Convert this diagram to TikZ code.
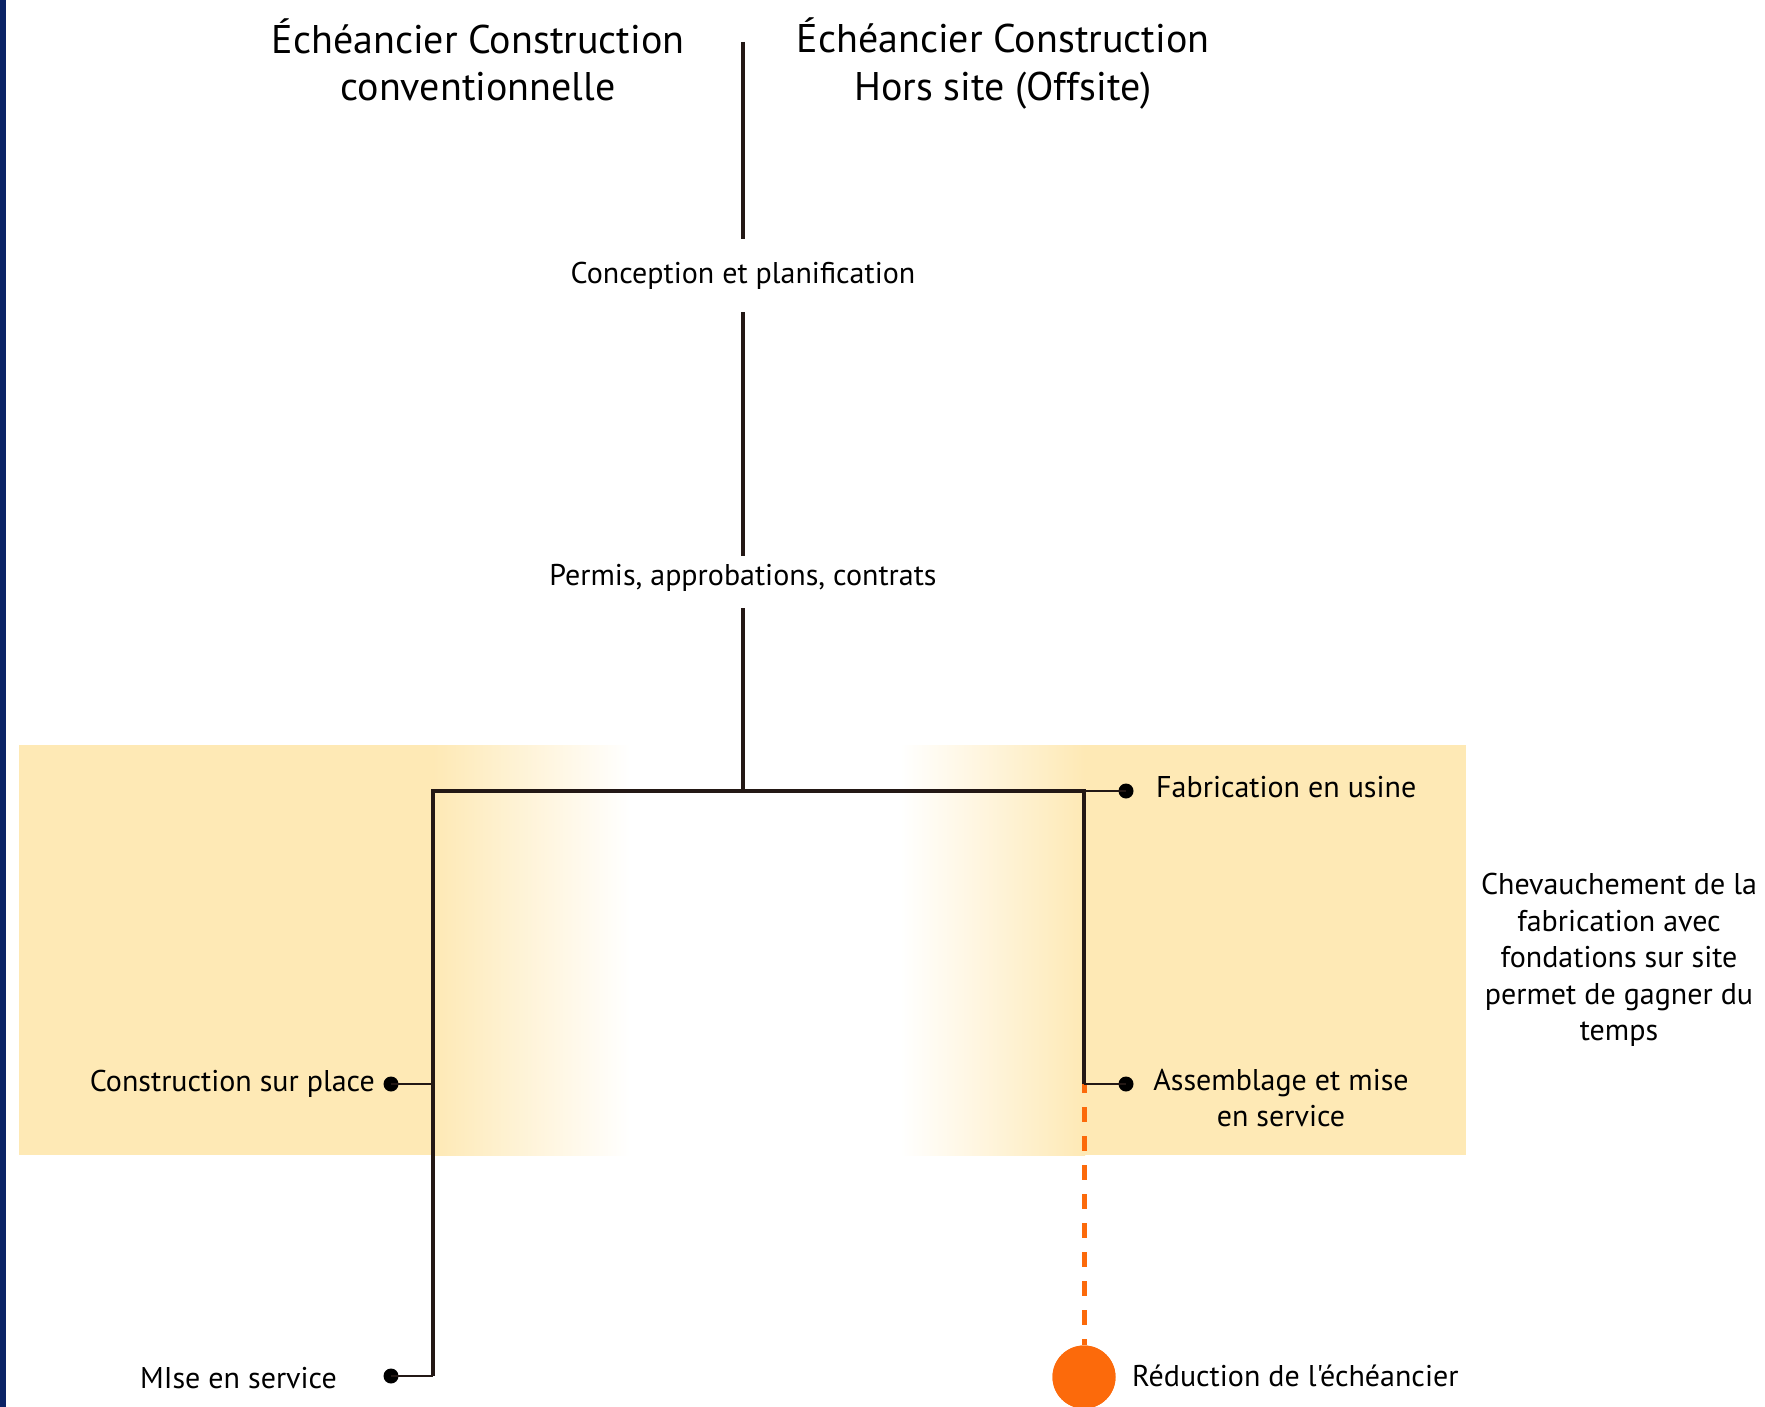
\documentclass[tikz,border=0pt]{standalone}
\usepackage{fontspec}
\setmainfont{PT Sans}[Ligatures=TeXOff]
\definecolor{navy}{HTML}{0B2366}
\definecolor{yel}{HTML}{FEE9B5}
\definecolor{orng}{HTML}{FC6A0B}
\definecolor{ink}{HTML}{231815}
\begin{document}
\begin{tikzpicture}[x=1pt,y=-1pt,
  title/.style={align=center,inner sep=0pt,font=\fontsize{40}{47.5}\selectfont},
  lbl/.style={align=center,inner sep=0pt,font=\fontsize{30}{36.5}\selectfont},
  mainline/.style={draw=ink,line width=4pt,line join=miter},
  tie/.style={draw=ink,line width=2.5pt},
  dot/.style={circle,fill=black,inner sep=0pt,minimum size=15pt},
  bigdot/.style={circle,fill=orng,inner sep=0pt,minimum size=63pt},
  orangedash/.style={draw=orng,line width=5pt,dash pattern=on 14.5pt off 14.5pt,dash phase=6pt}]
\useasboundingbox (0,0) rectangle (1765,1407);
\fill[white] (0,0) rectangle (1765,1407);
\fill[navy] (0,0) rectangle (6,1407);
% band
\fill[yel] (19,745) rectangle (434,1155);
\shade[left color=yel,right color=white] (433,745) rectangle (630,1155);
\shade[left color=white,right color=yel] (900,745) rectangle (1085,1155);
\fill[yel] (1084,745) rectangle (1466,1155);
% titles
\node[title] (tl) at (478,60) {Échéancier Construction\\conventionnelle};
\node[title] (tr) at (1003,63.5) {Échéancier Construction\\Hors site (Offsite)};
% steps
\node[lbl] (conc) at (743,276) {Conception et planification};
\node[lbl] (perm) at (743,578) {Permis, approbations, contrats};
\coordinate (top) at (743,42);
\coordinate (j) at (743,791);
\coordinate (lc) at (433,791);
\coordinate (rc) at (1084,791);
\coordinate (lb) at (433,1376);
\coordinate (rb) at (1084,1084);
% dots
\node[dot] (d1) at (1126,791) {};
\node[dot] (d2) at (1126,1084) {};
\node[dot] (d3) at (391,1084) {};
\node[dot] (d4) at (391,1376) {};
\node[lbl,anchor=west] (fab) at (1156,787) {Fabrication en usine};
\node[lbl] (asm) at (1281,1098) {Assemblage et mise\\en service};
\node[lbl,anchor=east] (csp) at (375,1084) {Construction sur place};
\node[lbl,anchor=east] (mes) at (337,1378) {MIse en service};
\node[lbl] (chev) at (1619,960) {Chevauchement de la\\fabrication avec\\fondations sur site\\permet de gagner du\\temps};
% connectors
\draw[mainline] (top) -- ([yshift=37pt]conc.center);
\draw[mainline,shorten <=36pt] (conc.center) -- ([yshift=22pt]perm.center);
\draw[mainline,shorten <=30pt] (perm.center) -- (j);
\node[bigdot] (red) at (1084,1377) {};
\draw[orangedash] (rb) -- (red.north);
\node[bigdot] at (red) {};
\node[lbl,anchor=west] (redt) at (1132,1376) {Réduction de l'échéancier};
\draw[mainline] (lb) -- (lc) -- (rc) -- (rb);
\draw[tie] (rc) -- (d1.center);
\draw[tie] (rb) -- (d2.center);
\draw[tie] (d3.center) -- (d3 -| lc);
\draw[tie] (d4.center) -- (lb);
\end{tikzpicture}
\end{document}
